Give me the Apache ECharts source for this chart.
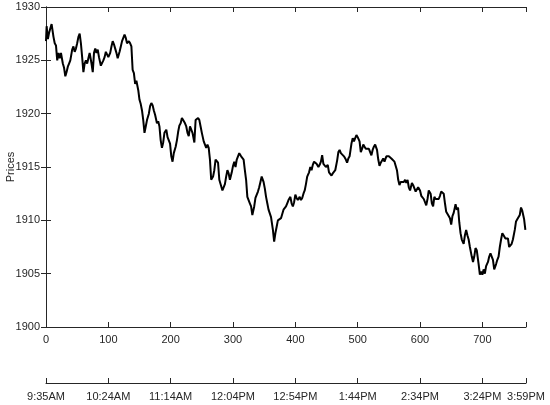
<!DOCTYPE html>
<html>
<head>
<meta charset="utf-8">
<script src="https://cdn.jsdelivr.net/npm/echarts@6/dist/echarts.min.js"></script>
<style>
  html, body { margin: 0; padding: 0; background: #fff; }
  #chart { width: 550px; height: 405px; }
</style>
</head>
<body>
<div id="chart"></div>
<script>
// sample index (30 s steps) and price
const sampleIdx = [
  0, 1, 3, 5, 7, 9, 12, 14, 16, 18, 20, 22, 24, 27, 29, 31, 33, 35, 37, 39,
  42, 44, 46, 48, 50, 52, 54, 56, 58, 60, 62, 64, 66, 68, 70, 73, 75, 77, 79, 81,
  83, 85, 88, 90, 92, 94, 96, 98, 100, 103, 105, 107, 109, 111, 113, 115, 118, 120, 122, 124,
  126, 128, 130, 133, 135, 137, 139, 141, 143, 145, 148, 150, 152, 154, 156, 158, 160, 162, 165, 167,
  169, 171, 173, 175, 178, 180, 182, 184, 186, 188, 190, 193, 195, 197, 199, 201, 203, 205, 208, 210,
  212, 214, 216, 218, 220, 223, 225, 227, 229, 231, 233, 235, 238, 240, 242, 244, 246, 248, 250, 253,
  255, 257, 259, 261, 263, 265, 268, 270, 272, 274, 276, 278, 280, 283, 285, 287, 289, 291, 293, 295,
  298, 300, 302, 304, 306, 308, 310, 313, 315, 317, 319, 321, 323, 325, 327, 329, 331, 334, 336, 338,
  340, 342, 344, 346, 349, 351, 353, 355, 357, 359, 361, 364, 366, 368, 370, 372, 374, 377, 379, 381,
  383, 385, 387, 389, 392, 394, 396, 398, 400, 402, 404, 407, 409, 411, 413, 415, 417, 419, 422, 424,
  426, 428, 430, 432, 434, 437, 439, 441, 443, 445, 447, 449, 452, 454, 456, 458, 460, 462, 464, 467,
  469, 471, 473, 475, 478, 481, 483, 485, 487, 490, 492, 494, 496, 498, 500, 503, 505, 507, 509, 511,
  513, 516, 518, 520, 522, 524, 526, 528, 531, 533, 535, 537, 539, 541, 543, 546, 548, 550, 552, 554,
  556, 559, 561, 563, 565, 567, 569, 571, 574, 576, 578, 580, 582, 584, 587, 589, 591, 593, 595, 597,
  600, 602, 604, 606, 608, 610, 612, 614, 617, 619, 621, 623, 625, 627, 630, 632, 634, 636, 638, 640,
  642, 644, 646, 648, 650, 652, 654, 657, 659, 661, 663, 665, 667, 670, 672, 674, 676, 678, 680, 683,
  685, 687, 689, 691, 694, 696, 698, 700, 702, 704, 706, 709, 711, 713, 715, 717, 719, 722, 724, 726,
  728, 730, 732, 734, 737, 739, 741, 743, 745, 747, 749, 752, 754, 756, 758, 760, 762, 764, 767, 769
];
const prices = [
  1926.8, 1928.2, 1927.0, 1927.6, 1928.0, 1928.4, 1927.2, 1926.6, 1926.4, 1925.0, 1925.7, 1925.2, 1925.7, 1924.7, 1924.3, 1923.5, 1923.9, 1924.4, 1924.7, 1925.0,
  1926.0, 1926.3, 1925.8, 1926.1, 1926.6, 1927.2, 1927.5, 1926.6, 1925.3, 1923.9, 1924.7, 1925.0, 1924.7, 1925.2, 1925.7, 1924.7, 1923.9, 1925.7, 1926.1, 1925.7,
  1926.0, 1925.3, 1924.5, 1924.4, 1925.0, 1925.3, 1925.8, 1925.7, 1925.3, 1925.7, 1926.3, 1926.8, 1926.5, 1926.1, 1925.7, 1925.2, 1925.8, 1926.3, 1926.8, 1927.1,
  1927.4, 1927.1, 1926.6, 1926.8, 1926.6, 1926.3, 1924.1, 1923.8, 1922.8, 1923.1, 1922.2, 1921.3, 1920.9, 1920.3, 1919.4, 1918.2, 1918.8, 1919.4, 1920.0, 1920.7,
  1921.0, 1920.8, 1920.3, 1919.9, 1919.1, 1919.3, 1918.8, 1917.5, 1916.8, 1917.3, 1918.2, 1918.5, 1917.8, 1917.8, 1917.2, 1916.0, 1915.5, 1916.3, 1916.9, 1917.5,
  1918.3, 1918.9, 1919.1, 1919.6, 1919.4, 1919.1, 1918.8, 1918.2, 1917.9, 1918.8, 1918.9, 1918.2, 1917.3, 1919.4, 1919.4, 1919.6, 1919.4, 1918.8, 1918.2, 1917.4,
  1917.3, 1916.8, 1917.1, 1916.8, 1915.7, 1913.8, 1914.1, 1914.7, 1915.7, 1915.7, 1915.4, 1913.8, 1913.4, 1912.8, 1912.7, 1913.4, 1914.1, 1914.7, 1914.4, 1913.8,
  1914.5, 1915.1, 1915.5, 1915.0, 1915.7, 1915.8, 1916.3, 1916.0, 1916.0, 1915.7, 1914.7, 1913.8, 1912.2, 1911.9, 1911.6, 1911.3, 1910.5, 1911.3, 1912.1, 1912.2,
  1912.7, 1913.1, 1913.6, 1914.1, 1913.6, 1913.0, 1912.2, 1911.6, 1911.0, 1911.0, 1910.3, 1909.1, 1908.0, 1908.8, 1909.4, 1910.0, 1909.9, 1910.2, 1910.6, 1911.0,
  1911.1, 1911.3, 1911.6, 1911.9, 1912.2, 1911.6, 1911.3, 1911.7, 1912.4, 1912.1, 1911.9, 1912.2, 1911.9, 1912.1, 1912.5, 1912.8, 1913.4, 1914.1, 1914.5, 1915.0,
  1914.7, 1915.2, 1915.5, 1915.5, 1915.3, 1915.0, 1915.2, 1915.5, 1916.1, 1915.3, 1915.2, 1915.0, 1915.2, 1914.5, 1914.4, 1914.2, 1914.4, 1914.5, 1914.7, 1915.6,
  1916.4, 1916.6, 1916.3, 1916.4, 1916.0, 1915.7, 1915.4, 1915.8, 1916.0, 1917.2, 1917.7, 1917.4, 1917.7, 1918.0, 1917.8, 1917.4, 1916.4, 1916.7, 1917.1, 1916.9,
  1916.7, 1916.6, 1916.7, 1916.4, 1916.1, 1916.6, 1916.9, 1917.1, 1916.6, 1915.7, 1915.1, 1915.4, 1915.5, 1915.8, 1915.5, 1916.0, 1916.1, 1916.0, 1916.1, 1915.8,
  1915.7, 1915.5, 1915.5, 1914.7, 1913.8, 1913.3, 1913.6, 1913.5, 1913.6, 1913.8, 1913.5, 1913.8, 1913.1, 1912.8, 1913.5, 1913.3, 1913.0, 1912.7, 1912.8, 1913.1,
  1912.8, 1912.3, 1912.2, 1912.0, 1911.9, 1911.4, 1912.0, 1912.8, 1912.5, 1911.6, 1911.3, 1912.2, 1912.0, 1911.9, 1912.0, 1912.3, 1912.7, 1912.8, 1912.5, 1911.6,
  1910.8, 1910.7, 1910.4, 1910.2, 1909.6, 1910.4, 1910.7, 1911.5, 1911.0, 1911.2, 1909.8, 1908.8, 1908.2, 1907.8, 1908.6, 1909.1, 1908.6, 1908.2, 1907.5, 1906.6,
  1906.1, 1906.6, 1907.4, 1907.2, 1905.9, 1904.9, 1905.2, 1904.9, 1905.4, 1905.0, 1905.7, 1906.1, 1906.6, 1906.9, 1906.6, 1906.3, 1905.4, 1905.9, 1906.3, 1906.6,
  1907.5, 1908.2, 1908.8, 1908.6, 1908.3, 1908.2, 1908.3, 1907.5, 1907.4, 1907.8, 1908.2, 1909.1, 1909.9, 1910.1, 1910.2, 1910.5, 1911.2, 1910.9, 1910.1, 1909.1
];

// second (time) axis
const timeTicks = [0, 100, 200, 300, 400, 500, 600, 700, 770];
const timeLabels = ['9:35AM', '10:24AM', '11:14AM', '12:04PM', '12:54PM', '1:44PM', '2:34PM', '3:24PM', '3:59PM'];

const yMin = 1900, yMax = 1930, yStep = 5;
const xMax = 770;

const ink = '#262626';
const font = { fontFamily: 'Liberation Sans, Arial, sans-serif', fontSize: 11, color: ink };

const chart = echarts.init(document.getElementById('chart'));

const boxAxis = {
  axisLine: { show: true, lineStyle: { color: ink, width: 1 } },
  axisTick: { show: true, inside: true, length: 5, lineStyle: { color: ink } },
  splitLine: { show: false }
};

chart.setOption({
  animation: false,
  backgroundColor: '#fff',
  grid: [
    { left: 46, right: 24, top: 7, height: 320, show: false, outerBoundsMode: 'none', containLabel: false },
    { left: 46, right: 24, top: 382, height: 1, show: false, outerBoundsMode: 'none', containLabel: false }
  ],
  xAxis: [
    Object.assign({}, boxAxis, {
      type: 'value', gridIndex: 0, position: 'bottom', min: 0, max: xMax, interval: 100,
      axisLabel: Object.assign({}, font, {
        margin: 7,
        formatter: v => (v === xMax ? '' : String(v))
      })
    }),
    Object.assign({}, boxAxis, {
      type: 'value', gridIndex: 0, position: 'top', min: 0, max: xMax, interval: 100,
      axisLabel: { show: false }
    }),
    Object.assign({}, boxAxis, {
      type: 'value', gridIndex: 1, position: 'bottom', min: 0, max: xMax, interval: 100,
      axisLabel: Object.assign({}, font, {
        margin: 8,
        showMinLabel: true, showMaxLabel: true,
        formatter: v => {
          const i = timeTicks.indexOf(v);
          return i >= 0 ? timeLabels[i] : '';
        }
      })
    })
  ],
  yAxis: [
    Object.assign({}, boxAxis, {
      type: 'value', gridIndex: 0, position: 'left', min: yMin, max: yMax, interval: yStep,
      name: 'Prices', nameLocation: 'middle', nameGap: 30, nameRotate: 90,
      nameMoveOverlap: false,
      nameTextStyle: font,
      axisLabel: Object.assign({}, font, { margin: 6, formatter: v => String(v) })
    }),
    Object.assign({}, boxAxis, {
      type: 'value', gridIndex: 0, position: 'right', min: yMin, max: yMax, interval: yStep,
      axisLabel: { show: false }
    }),
    { type: 'value', gridIndex: 1, show: false, min: 0, max: 1 }
  ],
  series: [{
    type: 'line',
    xAxisIndex: 0,
    yAxisIndex: 0,
    data: sampleIdx.map((x, i) => [x, prices[i]]),
    showSymbol: false,
    lineStyle: { color: '#000', width: 2 },
    clip: true
  }]
});
</script>
</body>
</html>
